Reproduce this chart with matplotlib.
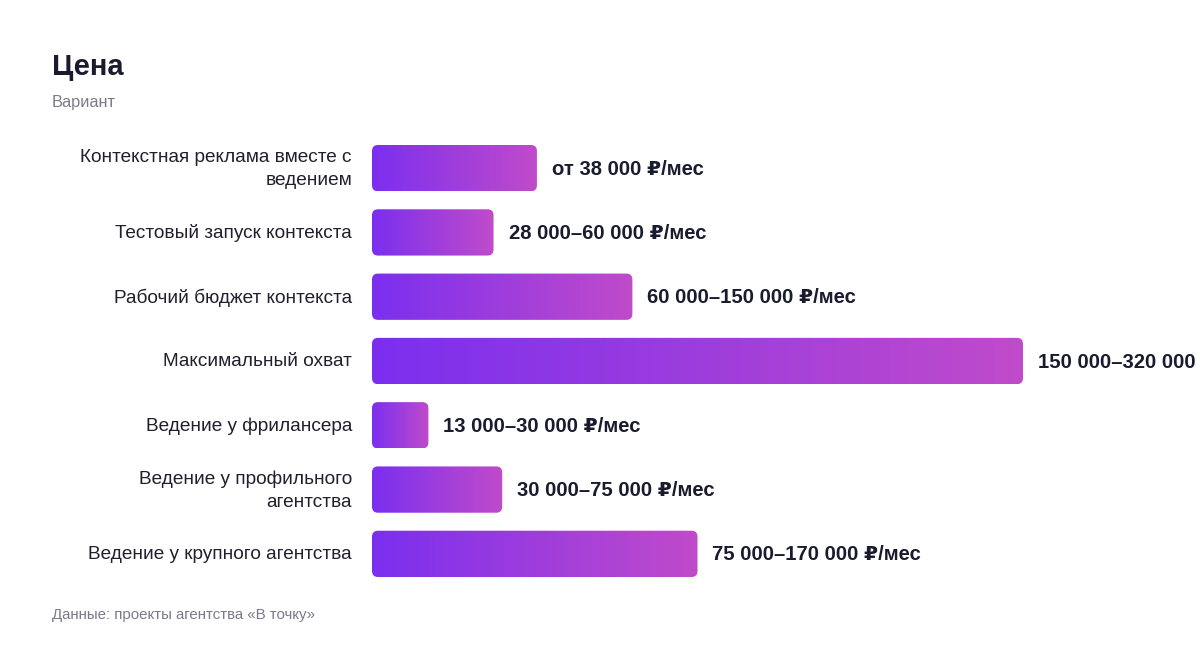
import numpy as np
import matplotlib
matplotlib.use("Agg")
import matplotlib.pyplot as plt
from matplotlib.patches import FancyBboxPatch
from matplotlib.colors import LinearSegmentedColormap

plt.rcParams['font.family'] = ['Liberation Sans', 'DejaVu Sans']

categories = [
    "Контекстная реклама вместе с\nведением",
    "Тестовый запуск контекста",
    "Рабочий бюджет контекста",
    "Максимальный охват",
    "Ведение у фрилансера",
    "Ведение у профильного\nагентства",
    "Ведение у крупного агентства",
]
values = [38000, 28000, 60000, 150000, 13000, 30000, 75000]
value_labels = [
    "от 38 000 ₽/мес",
    "28 000–60 000 ₽/мес",
    "60 000–150 000 ₽/мес",
    "150 000–320 000 ₽/мес",
    "13 000–30 000 ₽/мес",
    "30 000–75 000 ₽/мес",
    "75 000–170 000 ₽/мес",
]
title = "Цена"
subtitle = "Вариант"
footer = "Данные: проекты агентства «В точку»"

W, H = 1200, 648
fig = plt.figure(figsize=(W / 100, H / 100), dpi=100)
fig.patch.set_facecolor('white')

ax_left, ax_right = 372, 1023
ax_top, ax_bottom = 136, 586
ax = fig.add_axes([ax_left / W, 1 - ax_bottom / H, (ax_right - ax_left) / W, (ax_bottom - ax_top) / H])
ax.set_axis_off()

cmap = LinearSegmentedColormap.from_list("g", ["#7B2FEF", "#C04BCA"])
grad = np.linspace(0, 1, 256).reshape(1, -1)

n = len(categories)
xmax = max(values)
bar_h = 0.72
xlim = (0, xmax)
ylim = (n - 0.5, -0.5)

px_per_x = (ax_right - ax_left) / (xlim[1] - xlim[0])
px_per_y = (ax_bottom - ax_top) / abs(ylim[0] - ylim[1])
radius_px = 6
rs = radius_px / px_per_x
aspect = px_per_x / px_per_y

for i, (v, lab) in enumerate(zip(values, value_labels)):
    y0 = i - bar_h / 2
    patch = FancyBboxPatch((0, y0), v, bar_h,
                           boxstyle=f"round,pad=0,rounding_size={rs}",
                           mutation_aspect=aspect,
                           facecolor='none', edgecolor='none')
    ax.add_patch(patch)
    im = ax.imshow(grad, extent=[0, v, i + bar_h / 2, i - bar_h / 2], cmap=cmap,
                   aspect='auto', interpolation='bilinear')
    im.set_clip_path(patch)
    ax.text(v + 15 / px_per_x, i + 1 / px_per_y, lab, ha='left', va='center', fontsize=14.6,
            fontweight='bold', color='#1B1B2F', clip_on=False)
    ax.text(-20 / px_per_x, i + 1 / px_per_y, categories[i], ha='right', va='center', fontsize=13.7,
            color='#1F1F2E', linespacing=1.45, clip_on=False)

ax.set_xlim(*xlim)
ax.set_ylim(*ylim)

fig.text(52 / W, 1 - 75 / H, title, fontsize=21, fontweight='bold', color='#1B1B2F', va='baseline', ha='left')
fig.text(52 / W, 1 - 107 / H, subtitle, fontsize=11.8, color='#7A7A8C', va='baseline', ha='left')
fig.text(52 / W, 1 - 619 / H, footer, fontsize=10.8, color='#7A7A8C', va='baseline', ha='left')

fig.savefig("out.png", dpi=100, facecolor='white')
